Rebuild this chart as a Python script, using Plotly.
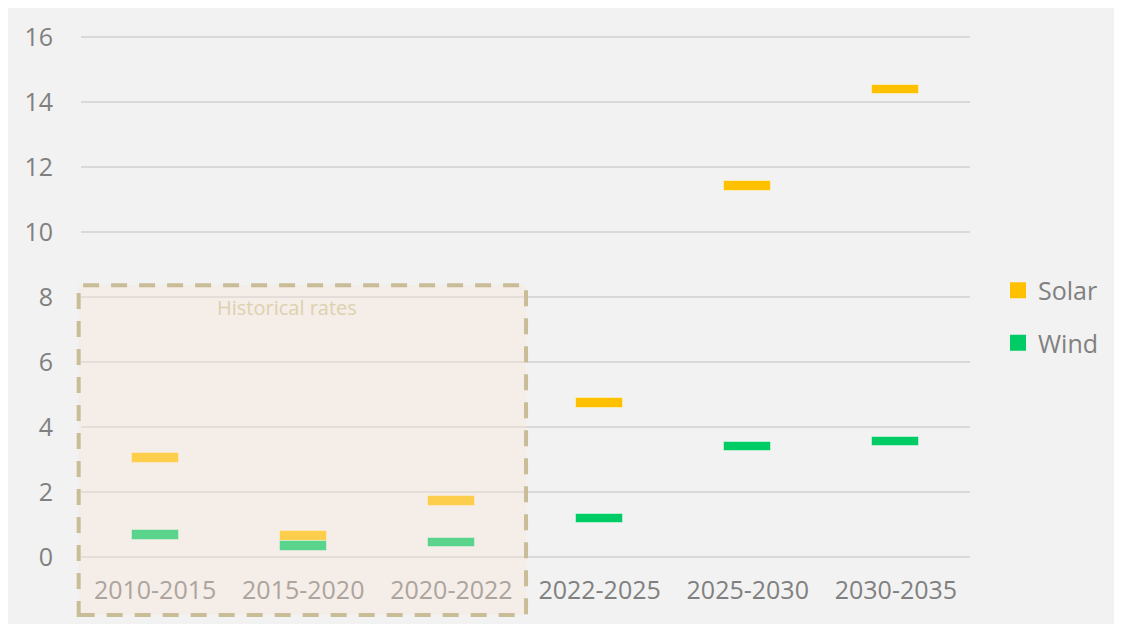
import plotly.graph_objects as go

categories = ["2010-2015", "2015-2020", "2020-2022", "2022-2025", "2025-2030", "2030-2035"]
solar = [3.05, 0.65, 1.72, 4.74, 11.42, 14.4]
wind = [0.68, 0.34, 0.44, 1.19, 3.41, 3.56]
y_ticks = [0, 2, 4, 6, 8, 10, 12, 14, 16]

BAR_H = 0.29
BAR_W = 0.317
SOLAR_C = "#FFC000"
WIND_C = "#00CC66"
FONT = "Open Sans"

fig = go.Figure()
for name, vals, col in [("Solar", solar, SOLAR_C), ("Wind", wind, WIND_C)]:
    fig.add_trace(go.Bar(
        x=categories, y=[BAR_H] * len(vals), base=[v - BAR_H / 2 for v in vals],
        width=BAR_W, marker=dict(color=col, line=dict(color="rgba(255,255,255,0.45)", width=1)),
        showlegend=False, name=name))
    fig.add_trace(go.Scatter(
        x=[None], y=[None], mode="markers", name=name, legendgroup=name,
        marker=dict(symbol="square", size=16, color=col)))

fig.update_layout(
    width=1114, height=616,
    margin=dict(l=73, r=152, t=26, b=67),
    paper_bgcolor="#f2f2f2", plot_bgcolor="rgba(0,0,0,0)",
    barmode="overlay", bargap=0,
    font=dict(family=FONT, color="#808080", size=25),
    legend=dict(x=1.0315, xanchor="left", y=0.4598, yanchor="middle",
                tracegroupgap=17, traceorder="grouped",
                font=dict(size=25, color="#808080"), bgcolor="rgba(0,0,0,0)"),
    xaxis=dict(showgrid=False, showline=False, zeroline=False, ticks="",
               ticklabelstandoff=16, tickfont=dict(size=25, color="#808080")),
    yaxis=dict(range=[0, 16.1], tickvals=y_ticks, showgrid=True, gridcolor="#d9d9d9",
               gridwidth=1.5, zeroline=True, zerolinecolor="#d9d9d9", zerolinewidth=1.5,
               showline=False, ticks="", ticklabelstandoff=27,
               tickfont=dict(size=25, color="#808080")),
    shapes=[
        dict(type="rect", xref="paper", yref="paper", x0=-0.0026, x1=0.5006, y0=-0.1109, y1=0.5195,
             fillcolor="rgba(250,228,211,0.36)", line=dict(color="#c8bd96", width=4, dash="16px,12px"),
             layer="above"),
    ],
    annotations=[
        dict(text="Historical rates", xref="paper", yref="paper", x=0.232, y=0.478,
             showarrow=False, font=dict(family=FONT, size=20, color="#ddd1ae"),
             xanchor="center", yanchor="middle"),
    ],
)

fig.write_html("out.html")
